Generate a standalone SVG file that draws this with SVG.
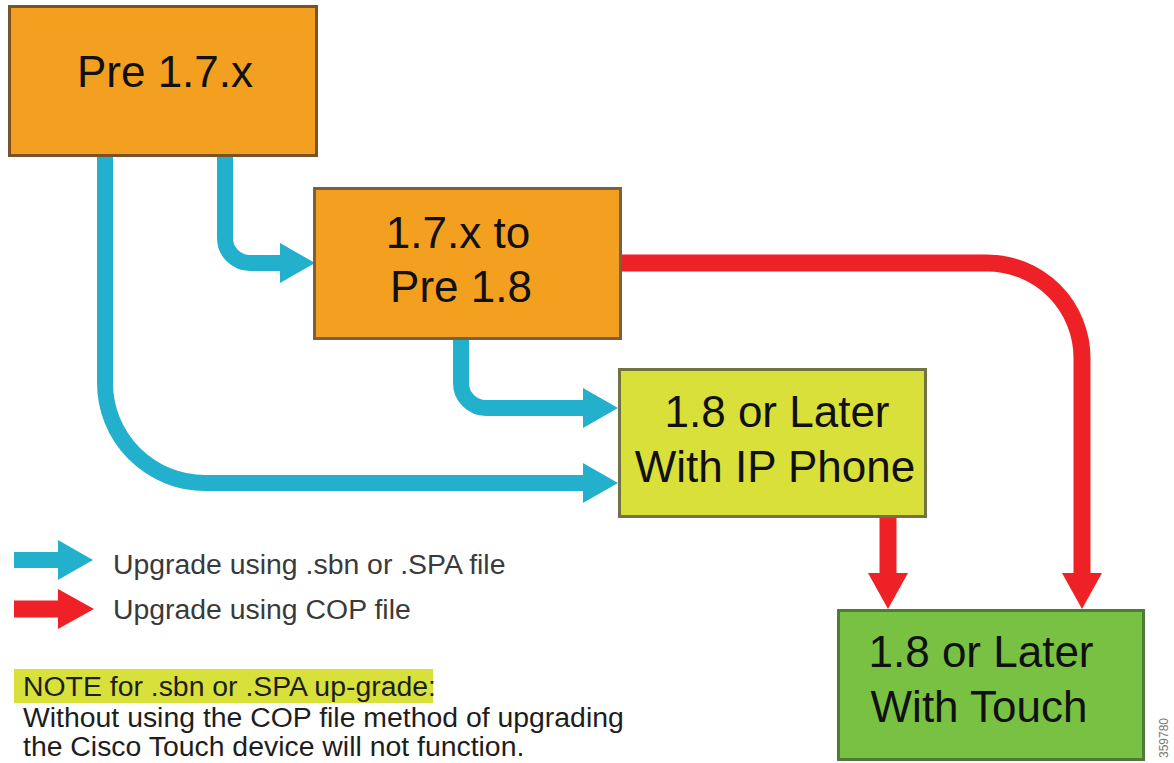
<svg xmlns="http://www.w3.org/2000/svg" width="1174" height="763" viewBox="0 0 1174 763">
<style>
.node-text{font-family:"Liberation Sans",Arial,sans-serif;font-size:44px;fill:#111;text-anchor:middle}
.legend{font-family:"Liberation Sans",Arial,sans-serif;font-size:28.4px;fill:#3a3a3a}
.note{font-family:"Liberation Sans",Arial,sans-serif;font-size:28.4px;fill:#1e1e1e}
.blue{fill:none;stroke:#23b0cd;stroke-width:16}
.red{fill:none;stroke:#ee2226;stroke-width:17}
</style>
<defs>
<marker id="hb" markerUnits="userSpaceOnUse" markerWidth="36" markerHeight="42" refX="0" refY="20" orient="auto" overflow="visible">
<path d="M0,0 L35,20 L0,40 Z" fill="#23b0cd"/>
</marker>
<marker id="hr" markerUnits="userSpaceOnUse" markerWidth="38" markerHeight="42" refX="0" refY="20" orient="auto" overflow="visible">
<path d="M0,0 L36,20 L0,40 Z" fill="#ee2226"/>
</marker>
</defs>
<rect width="1174" height="763" fill="#ffffff"/>
<g id="connectors">
<path class="blue" d="M105,157 V383 A100,100 0 0 0 205,483 H583" marker-end="url(#hb)"/>
<path class="blue" d="M225,157 V238 A25,25 0 0 0 250,263 H280" marker-end="url(#hb)"/>
<path class="blue" d="M461,340 V383 A25,25 0 0 0 486,408 H583" marker-end="url(#hb)"/>
<path class="red" d="M622,263 H987 A95,95 0 0 1 1082,358 V573" marker-end="url(#hr)"/>
<path class="red" d="M888,518 V573" marker-end="url(#hr)"/>
</g>
<g id="node-pre17">
<rect x="9.5" y="6.5" width="307" height="149" fill="#f3a020" stroke="#7a5228" stroke-width="3"/>
<text class="node-text" x="165" y="87">Pre 1.7.x</text>
</g>
<g id="node-17to18">
<rect x="314.5" y="188.5" width="306" height="150" fill="#f3a020" stroke="#7a6040" stroke-width="3"/>
<text class="node-text" x="458" y="248">1.7.x to</text>
<text class="node-text" x="461" y="302">Pre 1.8</text>
</g>
<g id="node-ipphone">
<rect x="619.5" y="369.5" width="306" height="147" fill="#dae03a" stroke="#6f7440" stroke-width="3"/>
<text class="node-text" x="777" y="427">1.8 or Later</text>
<text class="node-text" x="775" y="482">With IP Phone</text>
</g>
<g id="node-touch">
<rect x="838.5" y="610.5" width="305" height="149" fill="#79c142" stroke="#4e7a3c" stroke-width="3"/>
<text class="node-text" x="981" y="667">1.8 or Later</text>
<text class="node-text" x="979" y="722">With Touch</text>
</g>
<g id="legend">
<path class="blue" d="M14,560 H58" marker-end="url(#hb)"/>
<text class="legend" x="113" y="574">Upgrade using .sbn or .SPA file</text>
<path class="red" d="M14,609 H58" marker-end="url(#hr)"/>
<text class="legend" x="113" y="619">Upgrade using COP file</text>
</g>
<g id="note">
<rect x="14" y="669" width="419" height="34" fill="#d8e03c"/>
<text class="note" x="23" y="696">NOTE for .sbn or .SPA up-grade:</text>
<text class="note" x="23" y="727">Without using the COP file method of upgrading</text>
<text class="note" x="23" y="756">the Cisco Touch device will not function.</text>
</g>
<text x="1168" y="758" transform="rotate(-90 1168 758)" font-family="'Liberation Sans',Arial,sans-serif" font-size="12" fill="#777">359780</text>
</svg>
